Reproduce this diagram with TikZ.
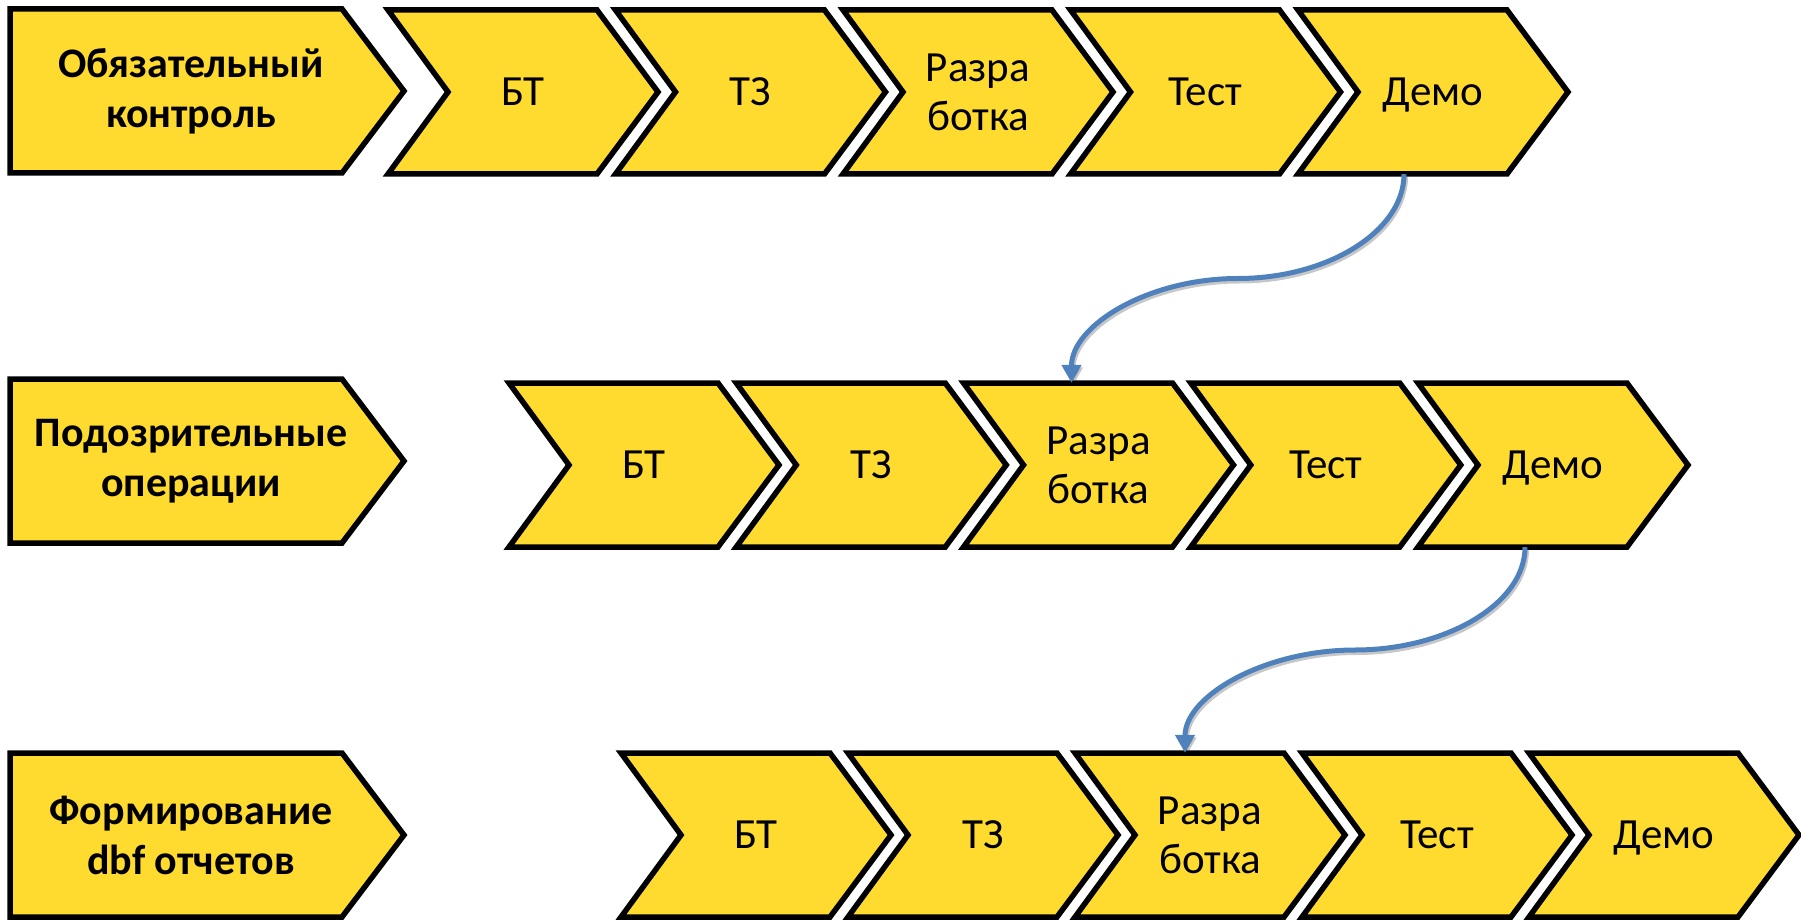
\documentclass[tikz,border=0pt]{standalone}
\usepackage{fontspec}
\setmainfont{Carlito}
\usetikzlibrary{arrows.meta,calc}
\definecolor{chevyellow}{RGB}{254,219,46}
\definecolor{connblue}{RGB}{79,129,189}
\tikzset{
  chev/.style={draw=black, fill=chevyellow, line width=5.5pt, line join=miter},
  lbl/.style={inner sep=0pt, minimum width=150pt, minimum height=164pt, align=center,
              font=\fontsize{43pt}{49pt}\selectfont},
  hlbl/.style={inner sep=0pt, align=center,
              font=\fontsize{42pt}{50pt}\selectfont\bfseries},
  conn/.style={draw=connblue, line width=5pt, -{Triangle[length=18pt,width=19pt]}},
  connshadow/.style={draw=black, opacity=0.22, line width=5pt, -{Triangle[length=18pt,width=19pt]},
              transform canvas={shift={(1.5pt,-2.5pt)}}}
}
\newcommand{\nodepth}[1]{\raisebox{0pt}[\height][0pt]{#1}}
\newcommand{\mychev}[4]{%
  \draw[chev] (#2,#3) -- ++(209,0) -- ++(61,82) -- ++(-61,82) -- ++(-209,0) -- ++(60,-82) -- cycle;
  \node[lbl] (#1) at (#2+135,#3+82) {#4};
}
\newcommand{\myhdr}[3]{%
  \draw[chev] (10,#2) -- (342,#2) -- (404,#2+82) -- (342,#2+164) -- (10,#2+164) -- cycle;
  \node[hlbl] (#1) at (191,#2+82) {#3};
}
\begin{document}
\begin{tikzpicture}[x=1pt,y=-1pt]
\useasboundingbox (0,0) rectangle (1801,920);
% row 1
\myhdr{hdr1}{9}{Обязательный\\контроль}
\mychev{bt1}{388}{10}{БТ}
\mychev{tz1}{615.5}{10}{ТЗ}
\mychev{razr1}{843}{10}{Разра\\ботка}
\mychev{test1}{1070.5}{10}{Тест}
\mychev{demo1}{1298}{10}{\nodepth{Демо}}
% row 2
\myhdr{hdr2}{379}{Подозрительные\\операции}
\mychev{bt2}{509}{383}{БТ}
\mychev{tz2}{736.25}{383}{ТЗ}
\mychev{razr2}{963.5}{383}{Разра\\ботка}
\mychev{test2}{1190.75}{383}{Тест}
\mychev{demo2}{1418}{383}{\nodepth{Демо}}
% row 3
\myhdr{hdr3}{753}{Формирование\\dbf отчетов}
\mychev{bt3}{621}{753}{БТ}
\mychev{tz3}{848}{753}{ТЗ}
\mychev{razr3}{1075}{753}{Разра\\ботка}
\mychev{test3}{1302}{753}{Тест}
\mychev{demo3}{1529}{753}{\nodepth{Демо}}
% connectors
\coordinate (s1) at ([xshift=-29pt]demo1.south);
\coordinate (e1) at ([xshift=-27pt]razr2.north);
\coordinate (s2) at ([xshift=-28pt]demo2.south);
\coordinate (e2) at ([xshift=-25pt]razr3.north);
\draw[connshadow] (s1) .. controls +(0,57) and +(90,0) .. ($(s1)!0.5!(e1)$) .. controls +(-90,0) and +(0,-57) .. (e1);
\draw[conn] (s1) .. controls +(0,57) and +(90,0) .. ($(s1)!0.5!(e1)$) .. controls +(-90,0) and +(0,-57) .. (e1);
\draw[connshadow] (s2) .. controls +(0,57) and +(90,0) .. ($(s2)!0.5!(e2)$) .. controls +(-90,0) and +(0,-57) .. (e2);
\draw[conn] (s2) .. controls +(0,57) and +(90,0) .. ($(s2)!0.5!(e2)$) .. controls +(-90,0) and +(0,-57) .. (e2);
\end{tikzpicture}
\end{document}
